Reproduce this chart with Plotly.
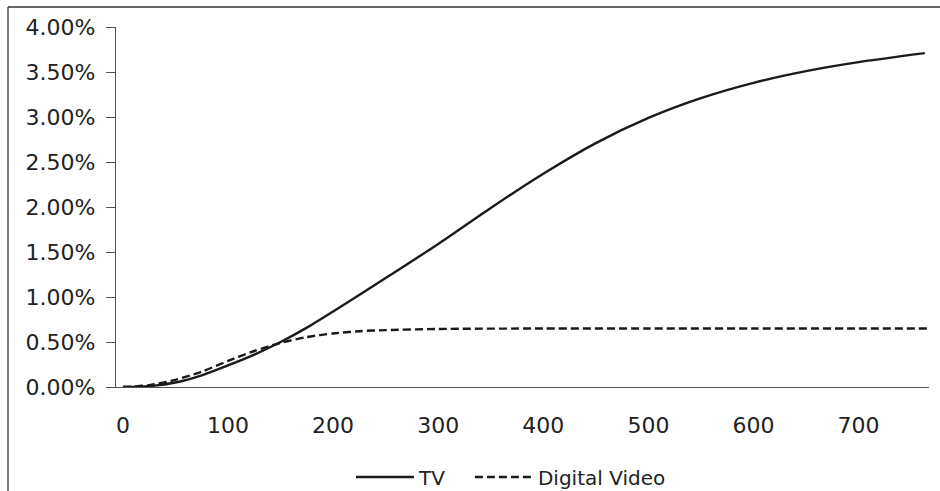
import plotly.graph_objects as go

x_tv = [0, 25, 50, 75, 100, 125, 150, 175, 200, 250, 300, 350, 400, 450, 500, 550, 600, 650, 700, 763]
tv = [0.0, 0.01, 0.05, 0.13, 0.24, 0.36, 0.50, 0.66, 0.84, 1.21, 1.59, 1.99, 2.37, 2.71, 2.99, 3.21, 3.38, 3.51, 3.61, 3.71]

x_dv = [0, 25, 50, 75, 100, 125, 150, 175, 200, 225, 250, 300, 400, 500, 600, 700, 765]
dv = [0.0, 0.02, 0.08, 0.17, 0.29, 0.40, 0.49, 0.555, 0.595, 0.62, 0.632, 0.645, 0.65, 0.65, 0.65, 0.65, 0.65]

y_ticks = [0, 0.5, 1.0, 1.5, 2.0, 2.5, 3.0, 3.5, 4.0]
y_labels = [f"{v:.2f}%" for v in y_ticks]
x_ticks = [0, 100, 200, 300, 400, 500, 600, 700]

series_names = ["TV", "Digital Video"]

FONT = "DejaVu Sans"

fig = go.Figure()
fig.add_trace(go.Scatter(x=x_tv, y=tv, name=series_names[0] + "\u00a0" * 3, mode="lines",
                         line=dict(color="#1a1a1a", width=2.4, shape="spline", smoothing=0.7)))
fig.add_trace(go.Scatter(x=x_dv, y=dv, name=series_names[1], mode="lines",
                         line=dict(color="#1a1a1a", width=2.4, dash="8px,4px", shape="spline", smoothing=0.7)))

fig.update_layout(
    width=940, height=491,
    margin=dict(l=116, r=11, t=27, b=104, autoexpand=False),
    paper_bgcolor="white", plot_bgcolor="white",
    font=dict(family=FONT, size=22, color="#222"),
    showlegend=True,
    legend=dict(orientation="h", x=0.289, xanchor="left", y=-0.25, yanchor="middle",
                font=dict(size=20, color="#222"), itemwidth=58,
                bgcolor="rgba(0,0,0,0)"),
    xaxis=dict(range=[-6.6, 767], tickvals=x_ticks, showgrid=False, zeroline=False,
               showline=True, linecolor="#555", linewidth=1.3, ticks="",
               ticklabelstandoff=18),
    yaxis=dict(range=[0, 4.0], tickvals=y_ticks, ticktext=y_labels, showgrid=False,
               zeroline=False, showline=True, linecolor="#555", linewidth=1.3,
               ticks="outside", ticklen=9, tickcolor="#555", tickwidth=1.3,
               ticklabelstandoff=6),
)

# outer frame lines (left and top)
fx = (8 - 116) / 813
fy = (387 - 7) / 360
fig.add_shape(type="line", xref="paper", yref="paper", x0=fx, x1=fx, y0=-0.4, y1=fy,
              line=dict(color="#333", width=1.3))
fig.add_shape(type="line", xref="paper", yref="paper", x0=fx, x1=1.1, y0=fy, y1=fy,
              line=dict(color="#333", width=1.3))

fig.write_html("out.html", config={"displayModeBar": False},
               post_script="document.body.style.margin='0';")
